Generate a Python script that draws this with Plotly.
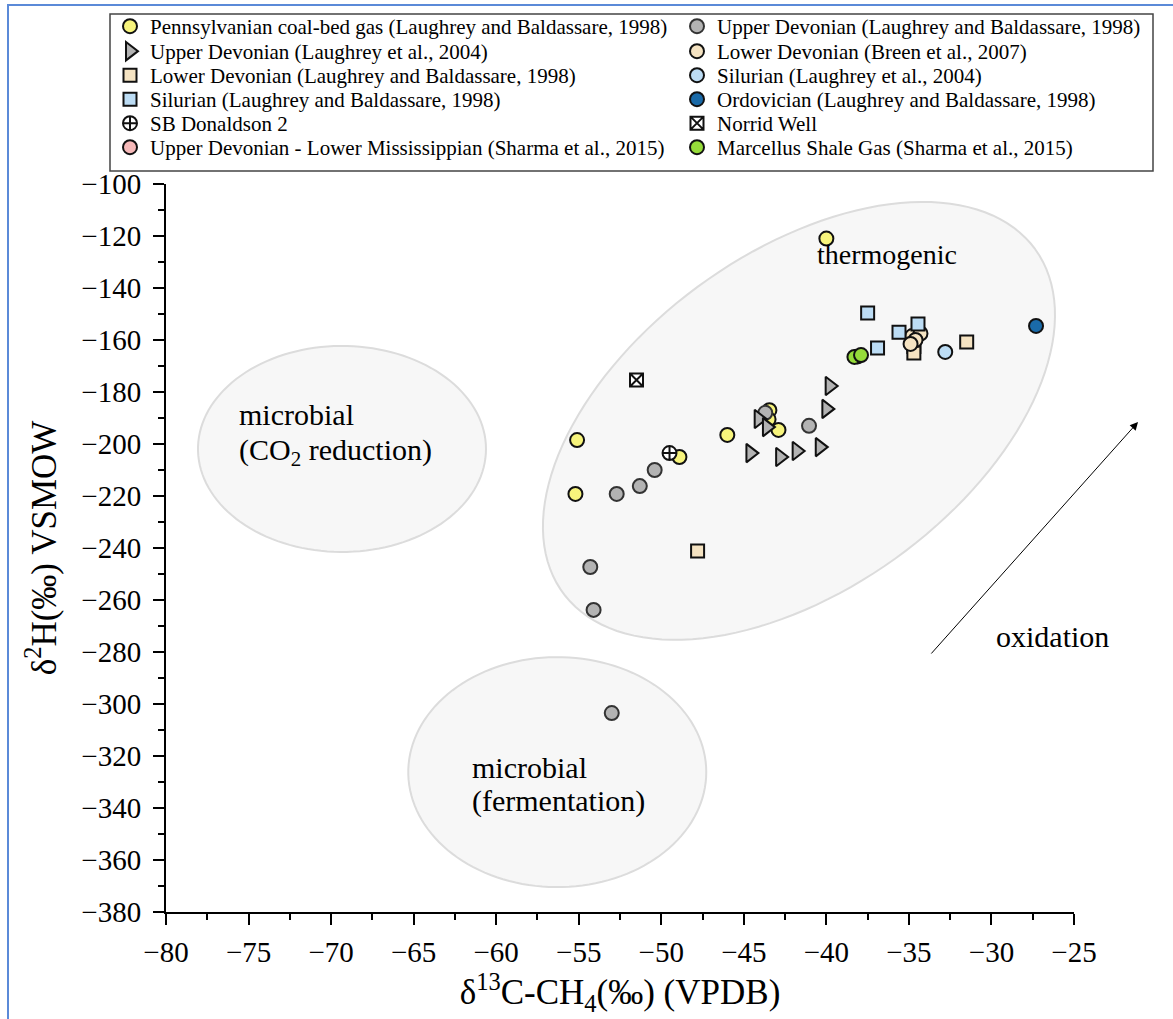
import numpy as np
import plotly.graph_objects as go

# ---------------- data ----------------
penn_x = [-40.0, -55.1, -55.2, -46.0, -48.9, -43.45, -43.5, -42.9]
penn_y = [-121.0, -198.5, -219.2, -196.5, -205.0, -187.0, -190.5, -194.6]

ud98_x = [-53.0, -54.1, -54.3, -52.7, -51.3, -50.4, -41.05, -43.7]
ud98_y = [-303.5, -263.8, -247.3, -219.2, -216.2, -210.0, -193.0, -188.0]

ud04_x = [-39.8, -40.0, -40.4, -41.8, -42.8, -44.6, -44.1, -43.6]
ud04_y = [-177.7, -186.5, -201.2, -202.7, -205.0, -203.5, -190.4, -193.5]

ld98_x = [-47.8, -31.5, -34.7, -34.7]
ld98_y = [-241.2, -160.8, -162.5, -165.0]

ldb_x = [-34.8, -34.3, -34.6, -34.9]
ldb_y = [-158.5, -157.5, -160.0, -161.5]

sil98_x = [-37.5, -36.9, -35.6, -34.45]
sil98_y = [-149.6, -163.1, -157.0, -153.8]

sil04_x = [-32.8]
sil04_y = [-164.6]

ord_x = [-27.3]
ord_y = [-154.6]

sbd_x = [-49.5]
sbd_y = [-203.5]

norrid_x = [-51.5]
norrid_y = [-175.4]

udlm_x = [-38.1]
udlm_y = [-166.3]

marc_x = [-38.3, -37.9]
marc_y = [-166.5, -165.8]

x_ticks = list(range(-80, -24, 5))
y_ticks = list(range(-380, -99, 20))

# ---------------- layout geometry ----------------
W, H = 1173, 1019
ML, MR, MT, MB = 166, 99, 184, 107
X_RANGE = [-80, -25]
Y_RANGE = [-380, -100]
PW, PH = W - ML - MR, H - MT - MB
KX = PW / (X_RANGE[1] - X_RANGE[0])   # px per unit
KY = PH / (Y_RANGE[1] - Y_RANGE[0])


def pp(px, py):
    """pixel -> paper coords"""
    return (px - ML) / PW, (H - MB - py) / PH


def ellipse_path(cx, cy, a_px, b_px, ang_deg, n=140):
    t = np.linspace(0, 2 * np.pi, n)
    th = np.radians(ang_deg)
    u = a_px * np.cos(t)
    v = b_px * np.sin(t)
    dx = u * np.cos(th) - v * np.sin(th)
    dy = u * np.sin(th) + v * np.cos(th)
    xs = cx + dx / KX
    ys = cy + dy / KY
    return "M " + " L ".join(f"{x:.4f},{y:.4f}" for x, y in zip(xs, ys)) + " Z"


FONT = "Liberation Serif, Times New Roman, serif"
EL_FILL = "#f7f7f7"
EL_LINE = "#dcdcdc"
LEG_FS = 21

fig = go.Figure()
legend_defs = {}
ROW_Y = [27, 52, 76, 100, 124, 148]
COL_X = [110, 677]
count = [0]


def add(x, y, name, symbol, color, size, col, row, lcolor="#111111"):
    count[0] += 1
    key = "legend" if count[0] == 1 else f"legend{count[0]}"
    fig.add_trace(go.Scatter(
        x=x, y=y, mode="markers", name=name, legend=key,
        marker=dict(symbol=symbol, color=color, size=size,
                    line=dict(color=lcolor, width=2)),
    ))
    lx, ly = pp(COL_X[col], ROW_Y[row] - 21)
    legend_defs[key] = dict(x=lx, y=ly, xanchor="left", yanchor="top", orientation="v",
                            font=dict(family=FONT, size=LEG_FS, color="black"),
                            bgcolor="rgba(0,0,0,0)", borderwidth=0, itemclick=False,
                            itemdoubleclick=False)


add(penn_x, penn_y, "Pennsylvanian coal-bed gas (Laughrey and Baldassare, 1998)", "circle", "#f7f47c", 14, 0, 0)
add(ud98_x, ud98_y, "Upper Devonian (Laughrey and Baldassare, 1998)", "circle", "#b3b3b3", 14, 1, 0, "#333333")
add(ud04_x, ud04_y, "Upper Devonian (Laughrey et al., 2004)", "triangle-right", "#b3b3b3", 16, 0, 1)
add(ld98_x, ld98_y, "Lower Devonian (Laughrey and Baldassare, 1998)", "square", "#f5e3c2", 13, 0, 2)
add(ldb_x, ldb_y, "Lower Devonian (Breen et al., 2007)", "circle", "#f5e3c2", 14, 1, 1)
add(sil98_x, sil98_y, "Silurian (Laughrey and Baldassare, 1998)", "square", "#bcdcf4", 13, 0, 3)
add(sil04_x, sil04_y, "Silurian (Laughrey et al., 2004)", "circle", "#bcdcf4", 14, 1, 2)
add(ord_x, ord_y, "Ordovician (Laughrey and Baldassare, 1998)", "circle", "#1a6aa8", 14, 1, 3)
add(sbd_x, sbd_y, "SB Donaldson 2", "circle-cross", "white", 14, 0, 4)
add(norrid_x, norrid_y, "Norrid Well", "square-x", "white", 13, 1, 4)
add(udlm_x, udlm_y, "Upper Devonian - Lower Mississippian (Sharma et al., 2015)", "circle", "#f6b9b9", 14, 0, 5)
add(marc_x, marc_y, "Marcellus Shale Gas (Sharma et al., 2015)", "circle", "#96dc3a", 14, 1, 5)

# ellipses (regions)
therm_c = (-41.66, -191.1)
co2_c = (-69.34, -201.9)
ferm_c = (-56.3, -326.2)
shapes = [
    dict(type="path", path=ellipse_path(therm_c[0], therm_c[1], 292, 168, 36),
         fillcolor=EL_FILL, line=dict(color=EL_LINE, width=2), layer="below"),
    dict(type="path", path=ellipse_path(co2_c[0], co2_c[1], 144, 103, 0),
         fillcolor=EL_FILL, line=dict(color=EL_LINE, width=2), layer="below"),
    dict(type="path", path=ellipse_path(ferm_c[0], ferm_c[1], 149, 115, 0),
         fillcolor=EL_FILL, line=dict(color=EL_LINE, width=2), layer="below"),
]

# legend border
lx0, ly0 = pp(110, 171)
lx1, ly1 = pp(1153, 14)
shapes.append(dict(type="rect", xref="paper", yref="paper", x0=lx0, y0=ly0, x1=lx1, y1=ly1,
                   line=dict(color="#444444", width=1.5), fillcolor="rgba(0,0,0,0)", layer="above"))
# outer blue frame
bx0, by0 = pp(8, 1060)
bx1, by1 = pp(1200, 5)
shapes.append(dict(type="rect", xref="paper", yref="paper", x0=bx0, y0=by0, x1=bx1, y1=by1,
                   line=dict(color="#5b8ad8", width=2), fillcolor="rgba(0,0,0,0)", layer="above"))

tf = dict(family=FONT, size=30, color="black")
annotations = [
    dict(x=-36.3, y=-127.3, text="thermogenic", showarrow=False, font=dict(family=FONT, size=28, color="black"),
         xanchor="center", yanchor="middle"),
    dict(x=-75.7, y=-188.8, text="microbial", showarrow=False, font=tf, xanchor="left", yanchor="middle"),
    dict(x=-75.7, y=-203.1, text="(CO<sub>2</sub> reduction)", showarrow=False, font=tf, xanchor="left", yanchor="middle"),
    dict(x=-61.6, y=-324.6, text="microbial", showarrow=False, font=tf, xanchor="left", yanchor="middle"),
    dict(x=-61.6, y=-337.3, text="(fermentation)", showarrow=False, font=tf, xanchor="left", yanchor="middle"),
    dict(x=-29.85, y=-274.2, text="oxidation", showarrow=False, font=tf, xanchor="left", yanchor="middle"),
]
hx, hy = pp(1138, 422)
annotations.append(dict(x=hx, y=hy, xref="paper", yref="paper", ax=930 - 1138, ay=655 - 422,
                        axref="pixel", ayref="pixel", text="", showarrow=True,
                        arrowhead=2, arrowsize=1.6, arrowwidth=1, arrowcolor="black"))

axis_common = dict(showline=True, linecolor="black", linewidth=2, showgrid=False, zeroline=False,
                   ticks="outside", ticklen=11, tickwidth=2, tickcolor="black",
                   tickfont=dict(family=FONT, size=29, color="black"),
                   minor=dict(ticks="outside", ticklen=6, tickwidth=2, tickcolor="black"))

fig.update_layout(
    width=W, height=H,
    margin=dict(l=ML, r=MR, t=MT, b=MB, autoexpand=False),
    paper_bgcolor="white", plot_bgcolor="white",
    font=dict(family=FONT, color="black"),
    showlegend=True,
    xaxis=dict(range=X_RANGE, tickvals=x_ticks, minor_dtick=2.5, automargin=False,
               title=dict(text="δ<sup>13</sup>C-CH<sub>4</sub>(‰) (VPDB)",
                          font=dict(family=FONT, size=35, color="black"), standoff=4),
               ticklabelstandoff=2, **axis_common),
    yaxis=dict(range=Y_RANGE, tickvals=y_ticks, minor_dtick=10, automargin=False,
               title=dict(text="δ<sup>2</sup>H(‰) VSMOW",
                          font=dict(family=FONT, size=35, color="black"), standoff=14),
               ticklabelstandoff=6, **axis_common),
    shapes=shapes,
    annotations=annotations,
    **legend_defs,
)

fig.write_html("out.html")
